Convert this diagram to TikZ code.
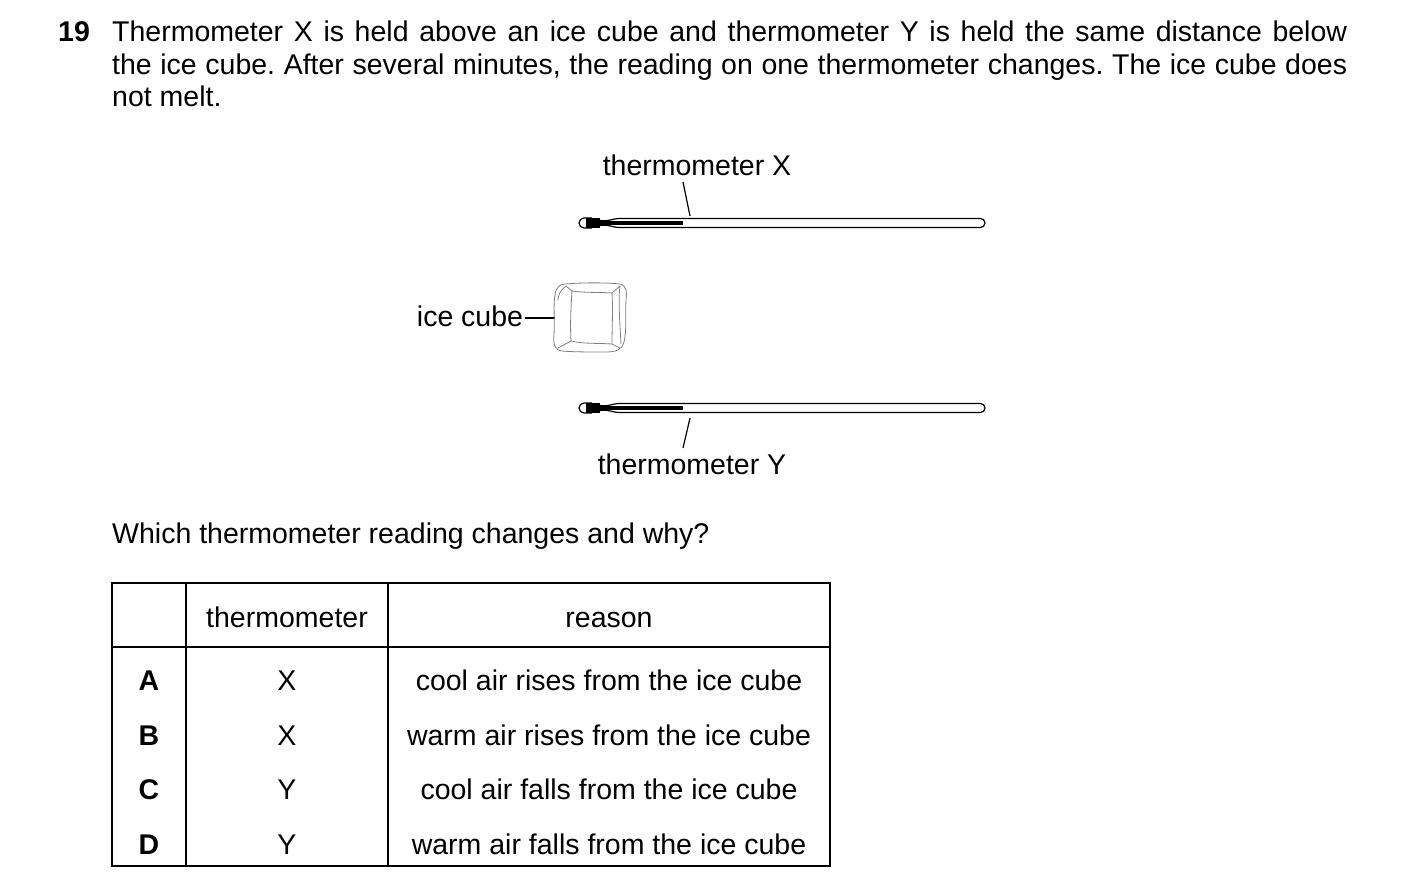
\documentclass[tikz,border=0pt]{standalone}
\usepackage{fontspec}
\setmainfont{Liberation Sans}
\begin{document}
\frenchspacing
\begin{tikzpicture}[x=1pt,y=-1pt,
  txt/.style={inner sep=0pt,font=\fontsize{28.5}{32}\selectfont},
  lbl/.style={txt,anchor=base},
  thin/.style={line width=1.2pt},
  cube/.style={gray,line width=0.8pt,line join=round}]
\useasboundingbox (0,0) rectangle (1403,894);
% question
\node[txt,anchor=base west,font=\fontsize{28.5}{32}\selectfont\bfseries] (num) at (58,41) {19};
\node[txt,anchor=base west] (l1) at (112,41) {\makebox[1235pt][s]{Thermometer X is held above an ice cube and thermometer Y is held the same distance below}};
\node[txt,anchor=base west] (l2) at (112,74) {\makebox[1235pt][s]{the ice cube. After several minutes, the reading on one thermometer changes. The ice cube does}};
\node[txt,anchor=base west] (l3) at (112,106) {not melt.};
% thermometers
\foreach \n/\y in {X/223,Y/408}{
  \draw[thin,fill=white,rounded corners=4.5pt] (620,\y-4.5) -- (985,\y-4.5) -- (985,\y+4.5) -- (620,\y+4.5);
  \draw[thin] (620,\y-4.5) .. controls (612,\y-4.5) and (608,\y-1) .. (600,\y-2.5);
  \draw[thin] (620,\y+4.5) .. controls (612,\y+4.5) and (608,\y+1) .. (600,\y+2.5);
  \draw[thin,rounded corners=5pt] (592,\y-5) -- (579,\y-5) -- (579,\y+5) -- (592,\y+5);
  \fill (586,\y-5) rectangle (600,\y+5);
  \fill (600,\y-1.8) rectangle (683,\y+1.8);
  \coordinate (bulb\n) at (586,\y);
}
\node[lbl] (tX) at (697,175) {thermometer X};
\node[lbl] (tY) at (692,474) {thermometer Y};
\coordinate (pX) at (690,216);
\coordinate (pY) at (690,418);
\draw[thin] (683,182) -- (pX);
\draw[thin] (pY) -- (683,448);
% ice cube
\node[lbl] (ice) at (470,326) {ice cube};
\coordinate (iceL) at (555,318);
\draw[thin] (525,318) -- (iceL);
\draw[cube] (565,284) .. controls (590,282) and (610,283) .. (620,284) .. controls (627,286) and (627,292) .. (626,300) .. controls (625,315) and (627,330) .. (624,342) .. controls (622,350) and (616,352) .. (605,352) .. controls (590,352) and (572,352) .. (562,351) .. controls (555,350) and (553,345) .. (554,335) .. controls (555,320) and (553,305) .. (555,295) .. controls (556,287) and (560,284) .. (565,284) -- cycle;
\draw[cube] (572,291) .. controls (585,293) and (600,292) .. (612,293) .. controls (613,310) and (612,328) .. (612,344) .. controls (598,343) and (583,344) .. (571,341) .. controls (570,325) and (571,305) .. (572,291) -- cycle;
\draw[cube] (572,291) -- (566,286); \draw[cube] (612,293) -- (620,286);
\draw[cube] (612,344) -- (620,348); \draw[cube] (571,341) -- (558,348);
\draw[cube] (566,286) .. controls (560,290) and (558,296) .. (558,300);
\draw[cube] (620,286) .. controls (618,300) and (620,325) .. (621,344);
% question 2
\node[txt,anchor=base west] (q) at (112,543) {Which thermometer reading changes and why?};
% table
\draw[line width=1.2pt] (112,583) rectangle (830,866);
\draw[line width=1.2pt] (112,647) -- (830,647);
\draw[line width=1.2pt] (186,583) -- (186,866);
\draw[line width=1.2pt] (388,583) -- (388,866);
\node[lbl] (h1) at (287,627) {thermometer};
\node[lbl] (h2) at (609,627) {reason};
\foreach \l/\t/\r/\y in {A/X/cool air rises from the ice cube/690, B/X/warm air rises from the ice cube/745, C/Y/cool air falls from the ice cube/799, D/Y/warm air falls from the ice cube/854}{
  \node[lbl,font=\fontsize{28.5}{32}\selectfont\bfseries] (r\l) at (149,\y) {\l};
  \node[lbl] (t\l) at (287,\y) {\t};
  \node[lbl] (s\l) at (609,\y) {\r};
}
\end{tikzpicture}
\end{document}
